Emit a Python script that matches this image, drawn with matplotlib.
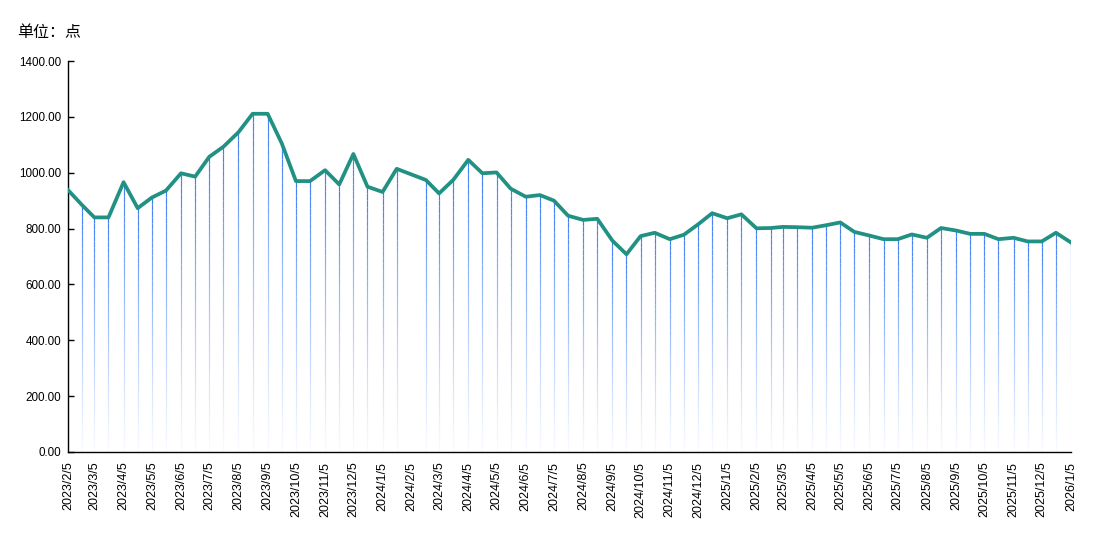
import matplotlib
matplotlib.use("Agg")
import matplotlib.pyplot as plt
import matplotlib.dates as mdates
from matplotlib.collections import LineCollection
import numpy as np
import pandas as pd

plt.rcParams['font.family'] = ['Liberation Sans', 'Noto Sans CJK SC', 'DejaVu Sans']

dates = [
    "2023-02-05", "2023-02-20", "2023-03-05", "2023-03-20", "2023-04-05", "2023-04-20",
    "2023-05-05", "2023-05-20", "2023-06-05", "2023-06-20", "2023-07-05", "2023-07-20",
    "2023-08-05", "2023-08-20", "2023-09-05", "2023-09-20", "2023-10-05", "2023-10-20",
    "2023-11-05", "2023-11-20", "2023-12-05", "2023-12-20", "2024-01-05", "2024-01-20",
    "2024-02-20", "2024-03-05", "2024-03-20", "2024-04-05", "2024-04-20",
    "2024-05-05", "2024-05-20", "2024-06-05", "2024-06-20", "2024-07-05", "2024-07-20",
    "2024-08-05", "2024-08-20", "2024-09-05", "2024-09-20", "2024-10-05", "2024-10-20",
    "2024-11-05", "2024-11-20", "2024-12-05", "2024-12-20", "2025-01-05", "2025-01-20",
    "2025-02-05", "2025-02-20", "2025-03-05", "2025-03-20", "2025-04-05", "2025-04-20",
    "2025-05-05", "2025-05-20", "2025-06-05", "2025-06-20", "2025-07-05", "2025-07-20",
    "2025-08-05", "2025-08-20", "2025-09-05", "2025-09-20", "2025-10-05", "2025-10-20",
    "2025-11-05", "2025-11-20", "2025-12-05", "2025-12-20", "2026-01-05",
]
values = [
    938, 884, 840, 840, 966, 873,
    911, 936, 998, 986, 1057, 1093,
    1145, 1211, 1211, 1105, 970, 970,
    1009, 958, 1067, 950, 931, 1014,
    974, 926, 974, 1046, 998,
    1001, 943, 914, 920, 900, 846,
    831, 835, 757, 708, 773, 785,
    762, 778, 815, 855, 837, 851,
    801, 802, 806, 805, 803, 812,
    822, 788, 775, 762, 762, 779,
    767, 802, 793, 781, 781, 762,
    767, 754, 754, 785, 750,
]
tick_dates = pd.date_range("2023-02-01", "2026-01-01", freq="MS") + pd.Timedelta(days=4)
y_ticks = [0, 200, 400, 600, 800, 1000, 1200, 1400]
unit_label = "单位：点"

line_color = "#219183"
bar_rgb = np.array(matplotlib.colors.to_rgb("#3d7cf5"))

x = mdates.date2num(pd.to_datetime(dates))
v = np.array(values, dtype=float)

fig = plt.figure(figsize=(10.97, 5.54), dpi=100)
ax = fig.add_axes([68 / 1097, 1 - 452 / 554, (1071 - 68) / 1097, (452 - 61) / 554])

# gradient vertical bars
nseg = 40
segs, cols = [], []
for xi, vi in zip(x, v):
    ys = np.linspace(0, vi, nseg + 1)
    for k in range(nseg):
        segs.append([(xi, ys[k]), (xi, ys[k + 1])])
        a = 0.03 + 0.97 * ((k + 0.5) / nseg) ** 1.2
        cols.append((*bar_rgb, a))
lc = LineCollection(segs, colors=cols, linewidths=0.85, zorder=1, capstyle='butt')
ax.add_collection(lc)

ax.plot(x, v, color=line_color, lw=2.7, zorder=3, solid_joinstyle='round')

ax.set_xlim(mdates.date2num(pd.Timestamp("2023-02-05")), mdates.date2num(pd.Timestamp("2026-01-05")))
ax.set_ylim(0, 1400)
ax.set_yticks(y_ticks)
ax.set_yticklabels([f"{t:.2f}" for t in y_ticks], fontsize=8.4)
ax.tick_params(axis='y', direction='in', length=4, width=1, pad=5)
ax.set_xticks(mdates.date2num(tick_dates))
ax.set_xticklabels([f"{d.year}/{d.month}/{d.day}" for d in tick_dates], rotation=90, fontsize=9)
ax.tick_params(axis='x', length=0, pad=7)

for s in ['top', 'right']:
    ax.spines[s].set_visible(False)
for s in ['left', 'bottom']:
    ax.spines[s].set_linewidth(1)
    ax.spines[s].set_color('black')

fig.text(17 / 1097, 1 - 32 / 554, unit_label, fontsize=11.5, va='center', ha='left',
         family=['Noto Sans CJK SC', 'DejaVu Sans'])

fig.savefig("out.png", dpi=100)
